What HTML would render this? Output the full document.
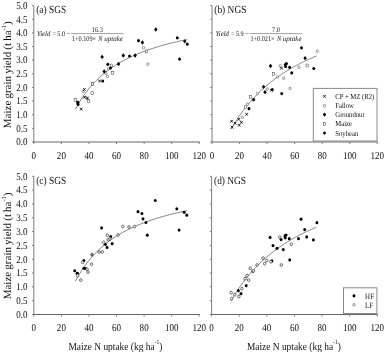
<!DOCTYPE html>
<html><head><meta charset="utf-8"><title>Maize grain yield vs N uptake</title>
<style>
html,body{margin:0;padding:0;background:#fff;}
body{width:385px;height:352px;overflow:hidden;}
svg{display:block;filter:grayscale(1);}
text{text-rendering:geometricPrecision;font-family:"Liberation Serif",serif;fill:#111;}
.t{font-size:10.4px;}
.ttl{font-size:10.8px;}
.eq{font-size:7.2px;fill:#151515;}
.i{font-style:italic;}
.lab{font-size:10.8px;}
.ylab{font-size:11px;word-spacing:-0.6px;}
.leg{font-size:7.7px;}
.leg2{font-size:8px;}
</style></head><body>
<svg width="385" height="352" viewBox="0 0 385 352">
<rect width="385" height="352" fill="#fff"/>
<path d="M33.3 142H199.78" stroke="#666" stroke-width="1" fill="none"/>
<path d="M33.8 5.6L33.8 142M32 142L33.8 142M32 128.36L33.8 128.36M32 114.72L33.8 114.72M32 101.08L33.8 101.08M32 87.44L33.8 87.44M32 73.8L33.8 73.8M32 60.16L33.8 60.16M32 46.52L33.8 46.52M32 32.88L33.8 32.88M32 19.24L33.8 19.24M32 5.6L33.8 5.6M33.8 142L33.8 144M61.38 142L61.38 144M88.96 142L88.96 144M116.54 142L116.54 144M144.12 142L144.12 144M171.7 142L171.7 144M199.28 142L199.28 144" stroke="#7c7c7c" stroke-width="1" fill="none"/>
<text transform="translate(27.5 145.3) scale(0.87 1)" class="t" text-anchor="end">0.0</text>
<text transform="translate(27.5 131.66) scale(0.87 1)" class="t" text-anchor="end">0.5</text>
<text transform="translate(27.5 118.02) scale(0.87 1)" class="t" text-anchor="end">1.0</text>
<text transform="translate(27.5 104.38) scale(0.87 1)" class="t" text-anchor="end">1.5</text>
<text transform="translate(27.5 90.74) scale(0.87 1)" class="t" text-anchor="end">2.0</text>
<text transform="translate(27.5 77.1) scale(0.87 1)" class="t" text-anchor="end">2.5</text>
<text transform="translate(27.5 63.46) scale(0.87 1)" class="t" text-anchor="end">3.0</text>
<text transform="translate(27.5 49.82) scale(0.87 1)" class="t" text-anchor="end">3.5</text>
<text transform="translate(27.5 36.18) scale(0.87 1)" class="t" text-anchor="end">4.0</text>
<text transform="translate(27.5 22.54) scale(0.87 1)" class="t" text-anchor="end">4.5</text>
<text transform="translate(27.5 8.9) scale(0.87 1)" class="t" text-anchor="end">5.0</text>
<text transform="translate(33.8 158.6) scale(0.87 1)" class="t" text-anchor="middle">0</text>
<text transform="translate(61.38 158.6) scale(0.87 1)" class="t" text-anchor="middle">20</text>
<text transform="translate(88.96 158.6) scale(0.87 1)" class="t" text-anchor="middle">40</text>
<text transform="translate(116.54 158.6) scale(0.87 1)" class="t" text-anchor="middle">60</text>
<text transform="translate(144.12 158.6) scale(0.87 1)" class="t" text-anchor="middle">80</text>
<text transform="translate(171.7 158.6) scale(0.87 1)" class="t" text-anchor="middle">100</text>
<text transform="translate(199.28 158.6) scale(0.87 1)" class="t" text-anchor="middle">120</text>
<path d="M211.55 142H377.75" stroke="#666" stroke-width="1" fill="none"/>
<path d="M212.05 5.6L212.05 142M210.25 142L212.05 142M210.25 128.36L212.05 128.36M210.25 114.72L212.05 114.72M210.25 101.08L212.05 101.08M210.25 87.44L212.05 87.44M210.25 73.8L212.05 73.8M210.25 60.16L212.05 60.16M210.25 46.52L212.05 46.52M210.25 32.88L212.05 32.88M210.25 19.24L212.05 19.24M210.25 5.6L212.05 5.6M212.05 142L212.05 144M239.58 142L239.58 144M267.12 142L267.12 144M294.65 142L294.65 144M322.19 142L322.19 144M349.72 142L349.72 144M377.25 142L377.25 144" stroke="#7c7c7c" stroke-width="1" fill="none"/>
<text transform="translate(212.05 158.6) scale(0.87 1)" class="t" text-anchor="middle">0</text>
<text transform="translate(239.58 158.6) scale(0.87 1)" class="t" text-anchor="middle">20</text>
<text transform="translate(267.12 158.6) scale(0.87 1)" class="t" text-anchor="middle">40</text>
<text transform="translate(294.65 158.6) scale(0.87 1)" class="t" text-anchor="middle">60</text>
<text transform="translate(322.19 158.6) scale(0.87 1)" class="t" text-anchor="middle">80</text>
<text transform="translate(349.72 158.6) scale(0.87 1)" class="t" text-anchor="middle">100</text>
<text transform="translate(377.25 158.6) scale(0.87 1)" class="t" text-anchor="middle">120</text>
<path d="M33.3 314.5H199.78" stroke="#666" stroke-width="1" fill="none"/>
<path d="M33.8 176.3L33.8 314.5M32 314.5L33.8 314.5M32 300.68L33.8 300.68M32 286.86L33.8 286.86M32 273.04L33.8 273.04M32 259.22L33.8 259.22M32 245.4L33.8 245.4M32 231.58L33.8 231.58M32 217.76L33.8 217.76M32 203.94L33.8 203.94M32 190.12L33.8 190.12M32 176.3L33.8 176.3M33.8 314.5L33.8 316.5M61.38 314.5L61.38 316.5M88.96 314.5L88.96 316.5M116.54 314.5L116.54 316.5M144.12 314.5L144.12 316.5M171.7 314.5L171.7 316.5M199.28 314.5L199.28 316.5" stroke="#7c7c7c" stroke-width="1" fill="none"/>
<text transform="translate(27.5 317.8) scale(0.87 1)" class="t" text-anchor="end">0.0</text>
<text transform="translate(27.5 303.98) scale(0.87 1)" class="t" text-anchor="end">0.5</text>
<text transform="translate(27.5 290.16) scale(0.87 1)" class="t" text-anchor="end">1.0</text>
<text transform="translate(27.5 276.34) scale(0.87 1)" class="t" text-anchor="end">1.5</text>
<text transform="translate(27.5 262.52) scale(0.87 1)" class="t" text-anchor="end">2.0</text>
<text transform="translate(27.5 248.7) scale(0.87 1)" class="t" text-anchor="end">2.5</text>
<text transform="translate(27.5 234.88) scale(0.87 1)" class="t" text-anchor="end">3.0</text>
<text transform="translate(27.5 221.06) scale(0.87 1)" class="t" text-anchor="end">3.5</text>
<text transform="translate(27.5 207.24) scale(0.87 1)" class="t" text-anchor="end">4.0</text>
<text transform="translate(27.5 193.42) scale(0.87 1)" class="t" text-anchor="end">4.5</text>
<text transform="translate(27.5 179.6) scale(0.87 1)" class="t" text-anchor="end">5.0</text>
<text transform="translate(33.8 331.1) scale(0.87 1)" class="t" text-anchor="middle">0</text>
<text transform="translate(61.38 331.1) scale(0.87 1)" class="t" text-anchor="middle">20</text>
<text transform="translate(88.96 331.1) scale(0.87 1)" class="t" text-anchor="middle">40</text>
<text transform="translate(116.54 331.1) scale(0.87 1)" class="t" text-anchor="middle">60</text>
<text transform="translate(144.12 331.1) scale(0.87 1)" class="t" text-anchor="middle">80</text>
<text transform="translate(171.7 331.1) scale(0.87 1)" class="t" text-anchor="middle">100</text>
<text transform="translate(199.28 331.1) scale(0.87 1)" class="t" text-anchor="middle">120</text>
<path d="M211.1 314.5H377.82" stroke="#666" stroke-width="1" fill="none"/>
<path d="M211.6 176.3L211.6 314.5M209.8 314.5L211.6 314.5M209.8 300.68L211.6 300.68M209.8 286.86L211.6 286.86M209.8 273.04L211.6 273.04M209.8 259.22L211.6 259.22M209.8 245.4L211.6 245.4M209.8 231.58L211.6 231.58M209.8 217.76L211.6 217.76M209.8 203.94L211.6 203.94M209.8 190.12L211.6 190.12M209.8 176.3L211.6 176.3M211.6 314.5L211.6 316.5M239.22 314.5L239.22 316.5M266.84 314.5L266.84 316.5M294.46 314.5L294.46 316.5M322.08 314.5L322.08 316.5M349.7 314.5L349.7 316.5M377.32 314.5L377.32 316.5" stroke="#7c7c7c" stroke-width="1" fill="none"/>
<text transform="translate(211.6 331.1) scale(0.87 1)" class="t" text-anchor="middle">0</text>
<text transform="translate(239.22 331.1) scale(0.87 1)" class="t" text-anchor="middle">20</text>
<text transform="translate(266.84 331.1) scale(0.87 1)" class="t" text-anchor="middle">40</text>
<text transform="translate(294.46 331.1) scale(0.87 1)" class="t" text-anchor="middle">60</text>
<text transform="translate(322.08 331.1) scale(0.87 1)" class="t" text-anchor="middle">80</text>
<text transform="translate(349.7 331.1) scale(0.87 1)" class="t" text-anchor="middle">100</text>
<text transform="translate(377.32 331.1) scale(0.87 1)" class="t" text-anchor="middle">120</text>
<path d="M75.45 109.21L76.82 106.64L78.2 104.2L79.58 101.87L80.96 99.65L82.34 97.53L83.72 95.51L85.1 93.57L86.48 91.71L87.86 89.93L89.24 88.22L90.61 86.58L91.99 85.01L93.37 83.49L94.75 82.03L96.13 80.63L97.51 79.27L98.89 77.96L100.27 76.7L101.65 75.48L103.03 74.31L104.4 73.17L105.78 72.07L107.16 71L108.54 69.97L109.92 68.97L111.3 68L112.68 67.06L114.06 66.15L115.44 65.26L116.82 64.4L118.19 63.57L119.57 62.76L120.95 61.97L122.33 61.2L123.71 60.45L125.09 59.72L126.47 59.01L127.85 58.32L129.23 57.65L130.61 57L131.98 56.36L133.36 55.73L134.74 55.12L136.12 54.53L137.5 53.95L138.88 53.38L140.26 52.83L141.64 52.29L143.02 51.76L144.4 51.24L145.77 50.74L147.15 50.25L148.53 49.76L149.91 49.29L151.29 48.83L152.67 48.37L154.05 47.93L155.43 47.49L156.81 47.07L158.19 46.65L159.56 46.24L160.94 45.84L162.32 45.45L163.7 45.06L165.08 44.69L166.46 44.31L167.84 43.95L169.22 43.59L170.6 43.24L171.98 42.9L173.35 42.56L174.73 42.23L176.11 41.9L177.49 41.58L178.87 41.27L180.25 40.96L181.63 40.65L183.01 40.36L184.39 40.06L185.77 39.77L187.14 39.49" stroke="#333" stroke-width="0.6" fill="none"/>
<path d="M75.45 281.28L76.82 278.68L78.2 276.2L79.58 273.84L80.96 271.59L82.34 269.45L83.72 267.39L85.1 265.43L86.48 263.55L87.86 261.74L89.24 260.01L90.61 258.35L91.99 256.76L93.37 255.22L94.75 253.74L96.13 252.32L97.51 250.94L98.89 249.62L100.27 248.34L101.65 247.11L103.03 245.91L104.4 244.76L105.78 243.65L107.16 242.57L108.54 241.52L109.92 240.51L111.3 239.53L112.68 238.57L114.06 237.65L115.44 236.75L116.82 235.88L118.19 235.03L119.57 234.21L120.95 233.41L122.33 232.63L123.71 231.87L125.09 231.14L126.47 230.42L127.85 229.72L129.23 229.04L130.61 228.37L131.98 227.73L133.36 227.09L134.74 226.48L136.12 225.88L137.5 225.29L138.88 224.71L140.26 224.15L141.64 223.61L143.02 223.07L144.4 222.55L145.77 222.04L147.15 221.54L148.53 221.05L149.91 220.57L151.29 220.1L152.67 219.64L154.05 219.19L155.43 218.75L156.81 218.32L158.19 217.89L159.56 217.48L160.94 217.07L162.32 216.67L163.7 216.28L165.08 215.9L166.46 215.53L167.84 215.16L169.22 214.79L170.6 214.44L171.98 214.09L173.35 213.75L174.73 213.41L176.11 213.08L177.49 212.76L178.87 212.44L180.25 212.13L181.63 211.82L183.01 211.51L184.39 211.22L185.77 210.92L187.14 210.64" stroke="#333" stroke-width="0.6" fill="none"/>
<path d="M231.31 128.74L232.69 126.38L234.06 124.09L235.44 121.88L236.81 119.74L238.19 117.66L239.56 115.64L240.94 113.69L242.31 111.79L243.69 109.95L245.06 108.16L246.44 106.43L247.81 104.74L249.19 103.09L250.56 101.5L251.94 99.94L253.31 98.43L254.69 96.95L256.06 95.51L257.44 94.11L258.81 92.75L260.19 91.42L261.56 90.12L262.94 88.86L264.31 87.62L265.69 86.42L267.06 85.24L268.44 84.09L269.81 82.97L271.19 81.87L272.56 80.8L273.94 79.75L275.31 78.72L276.69 77.72L278.06 76.74L279.44 75.78L280.81 74.84L282.19 73.92L283.56 73.02L284.94 72.14L286.31 71.28L287.69 70.43L289.06 69.6L290.44 68.79L291.81 67.99L293.19 67.21L294.56 66.45L295.94 65.7L297.31 64.96L298.69 64.24L300.06 63.53L301.44 62.84L302.81 62.15L304.19 61.48L305.56 60.83L306.94 60.18L308.31 59.55L309.69 58.93L311.06 58.31L312.44 57.71L313.81 57.12L315.19 56.54L316.56 55.97" stroke="#333" stroke-width="0.6" fill="none"/>
<path d="M230.91 301.06L232.29 298.67L233.66 296.35L235.04 294.11L236.41 291.94L237.79 289.84L239.16 287.8L240.54 285.82L241.91 283.9L243.29 282.03L244.66 280.22L246.04 278.46L247.41 276.74L248.79 275.08L250.16 273.46L251.54 271.88L252.91 270.35L254.29 268.86L255.66 267.4L257.04 265.98L258.41 264.6L259.79 263.25L261.16 261.94L262.54 260.66L263.91 259.4L265.29 258.18L266.66 256.99L268.04 255.83L269.41 254.69L270.79 253.58L272.16 252.49L273.54 251.43L274.91 250.39L276.29 249.37L277.66 248.38L279.04 247.41L280.41 246.45L281.79 245.52L283.16 244.61L284.54 243.72L285.91 242.84L287.29 241.99L288.66 241.15L290.04 240.32L291.41 239.52L292.79 238.73L294.16 237.95L295.54 237.19L296.91 236.44L298.29 235.71L299.66 235L301.04 234.29L302.41 233.6L303.79 232.92L305.16 232.26L306.54 231.6L307.91 230.96L309.29 230.33L310.66 229.71L312.04 229.1L313.41 228.5L314.79 227.92L316.16 227.34" stroke="#333" stroke-width="0.6" fill="none"/>
<rect x="110.15" y="64.05" width="2.3" height="2.9" fill="#fff" stroke="#222" stroke-width="0.45"/>
<rect x="111.55" y="71.25" width="2.3" height="2.9" fill="#fff" stroke="#222" stroke-width="0.45"/>
<rect x="91.35" y="82.25" width="2.3" height="2.9" fill="#fff" stroke="#222" stroke-width="0.45"/>
<rect x="90.95" y="91.8" width="2.3" height="2.9" fill="#fff" stroke="#222" stroke-width="0.45"/>
<rect x="74.1" y="98.3" width="2.3" height="2.9" fill="#fff" stroke="#222" stroke-width="0.45"/>
<rect x="87.35" y="99.55" width="2.3" height="2.9" fill="#fff" stroke="#222" stroke-width="0.45"/>
<rect x="145.25" y="50.05" width="2.3" height="2.9" fill="#fff" stroke="#222" stroke-width="0.45"/>
<ellipse cx="108.7" cy="68.7" rx="1.15" ry="1.3" fill="#fff" stroke="#222" stroke-width="0.45"/>
<ellipse cx="105.8" cy="73.3" rx="1.15" ry="1.3" fill="#fff" stroke="#222" stroke-width="0.45"/>
<ellipse cx="107.6" cy="76.4" rx="1.15" ry="1.3" fill="#fff" stroke="#222" stroke-width="0.45"/>
<ellipse cx="92.5" cy="83.7" rx="1.15" ry="1.3" fill="#fff" stroke="#222" stroke-width="0.45"/>
<ellipse cx="83.1" cy="91.4" rx="1.15" ry="1.3" fill="#fff" stroke="#222" stroke-width="0.45"/>
<ellipse cx="86" cy="97.5" rx="1.15" ry="1.3" fill="#fff" stroke="#222" stroke-width="0.45"/>
<ellipse cx="143.5" cy="47.8" rx="1.15" ry="1.3" fill="#fff" stroke="#222" stroke-width="0.45"/>
<ellipse cx="147.8" cy="64.2" rx="1.15" ry="1.3" fill="#fff" stroke="#222" stroke-width="0.45"/>
<path d="M98.35 79.6L100.85 82.4M98.35 82.4L100.85 79.6" stroke="#000" stroke-width="0.85" fill="none"/>
<path d="M83.15 88.1L85.65 90.9M83.15 90.9L85.65 88.1" stroke="#000" stroke-width="0.85" fill="none"/>
<path d="M83.15 95.85L85.65 98.65M83.15 98.65L85.65 95.85" stroke="#000" stroke-width="0.85" fill="none"/>
<path d="M86.25 96.7L88.75 99.5M86.25 99.5L88.75 96.7" stroke="#000" stroke-width="0.85" fill="none"/>
<path d="M76.5 100.85L79 103.65M76.5 103.65L79 100.85" stroke="#000" stroke-width="0.85" fill="none"/>
<path d="M80 107.7L82.5 110.5M80 110.5L82.5 107.7" stroke="#000" stroke-width="0.85" fill="none"/>
<ellipse cx="129.5" cy="56" rx="1.45" ry="1.6" fill="#000"/>
<ellipse cx="107.8" cy="64.3" rx="1.45" ry="1.6" fill="#000"/>
<ellipse cx="110.5" cy="68" rx="1.45" ry="1.6" fill="#000"/>
<ellipse cx="102.75" cy="81" rx="1.45" ry="1.6" fill="#000"/>
<ellipse cx="77.75" cy="102.25" rx="1.45" ry="1.6" fill="#000"/>
<ellipse cx="78.1" cy="104.5" rx="1.45" ry="1.6" fill="#000"/>
<ellipse cx="138.5" cy="40.7" rx="1.45" ry="1.6" fill="#000"/>
<ellipse cx="177.3" cy="37.8" rx="1.45" ry="1.6" fill="#000"/>
<ellipse cx="187.3" cy="44.2" rx="1.45" ry="1.6" fill="#000"/>
<ellipse cx="179.6" cy="59.1" rx="1.45" ry="1.6" fill="#000"/>
<path d="M102.1 54.75L103.85 56.9L102.1 59.05L100.35 56.9Z" fill="#000"/>
<path d="M123.3 53.35L125.05 55.5L123.3 57.65L121.55 55.5Z" fill="#000"/>
<path d="M135.1 53.35L136.85 55.5L135.1 57.65L133.35 55.5Z" fill="#000"/>
<path d="M118.5 61.85L120.25 64L118.5 66.15L116.75 64Z" fill="#000"/>
<path d="M104.2 69.35L105.95 71.5L104.2 73.65L102.45 71.5Z" fill="#000"/>
<path d="M155.8 27.35L157.55 29.5L155.8 31.65L154.05 29.5Z" fill="#000"/>
<path d="M142.4 40.35L144.15 42.5L142.4 44.65L140.65 42.5Z" fill="#000"/>
<path d="M184.7 39.15L186.45 41.3L184.7 43.45L182.95 41.3Z" fill="#000"/>
<rect x="272.25" y="72.75" width="2.3" height="2.9" fill="#fff" stroke="#222" stroke-width="0.45"/>
<rect x="249.45" y="95.45" width="2.3" height="2.9" fill="#fff" stroke="#222" stroke-width="0.45"/>
<rect x="244.35" y="105.85" width="2.3" height="2.9" fill="#fff" stroke="#222" stroke-width="0.45"/>
<rect x="305.95" y="64.05" width="2.3" height="2.9" fill="#fff" stroke="#222" stroke-width="0.45"/>
<ellipse cx="277.4" cy="76.9" rx="1.15" ry="1.3" fill="#fff" stroke="#222" stroke-width="0.45"/>
<ellipse cx="283.7" cy="78.2" rx="1.15" ry="1.3" fill="#fff" stroke="#222" stroke-width="0.45"/>
<ellipse cx="267.2" cy="89.1" rx="1.15" ry="1.3" fill="#fff" stroke="#222" stroke-width="0.45"/>
<ellipse cx="290.1" cy="88.5" rx="1.15" ry="1.3" fill="#fff" stroke="#222" stroke-width="0.45"/>
<ellipse cx="257.4" cy="93.6" rx="1.15" ry="1.3" fill="#fff" stroke="#222" stroke-width="0.45"/>
<ellipse cx="247.4" cy="104.2" rx="1.15" ry="1.3" fill="#fff" stroke="#222" stroke-width="0.45"/>
<ellipse cx="242.3" cy="117.3" rx="1.15" ry="1.3" fill="#fff" stroke="#222" stroke-width="0.45"/>
<ellipse cx="317.3" cy="51.3" rx="1.15" ry="1.3" fill="#fff" stroke="#222" stroke-width="0.45"/>
<ellipse cx="280.2" cy="65.8" rx="1.15" ry="1.3" fill="#fff" stroke="#222" stroke-width="0.45"/>
<ellipse cx="298.9" cy="67.3" rx="1.15" ry="1.3" fill="#fff" stroke="#222" stroke-width="0.45"/>
<ellipse cx="253.2" cy="100" rx="1.15" ry="1.3" fill="#fff" stroke="#222" stroke-width="0.45"/>
<path d="M270.05 88.9L272.55 91.7M270.05 91.7L272.55 88.9" stroke="#000" stroke-width="0.85" fill="none"/>
<path d="M245.35 112.85L247.85 115.65M245.35 115.65L247.85 112.85" stroke="#000" stroke-width="0.85" fill="none"/>
<path d="M237.5 117.85L240 120.65M237.5 120.65L240 117.85" stroke="#000" stroke-width="0.85" fill="none"/>
<path d="M230.35 119.85L232.85 122.65M230.35 122.65L232.85 119.85" stroke="#000" stroke-width="0.85" fill="none"/>
<path d="M240.15 120.9L242.65 123.7M240.15 123.7L242.65 120.9" stroke="#000" stroke-width="0.85" fill="none"/>
<path d="M233.95 121.9L236.45 124.7M233.95 124.7L236.45 121.9" stroke="#000" stroke-width="0.85" fill="none"/>
<path d="M238 123.8L240.5 126.6M238 126.6L240.5 123.8" stroke="#000" stroke-width="0.85" fill="none"/>
<path d="M230.85 125.8L233.35 128.6M230.85 128.6L233.35 125.8" stroke="#000" stroke-width="0.85" fill="none"/>
<path d="M280.25 66.8L282.75 69.6M280.25 69.6L282.75 66.8" stroke="#000" stroke-width="0.85" fill="none"/>
<ellipse cx="291.7" cy="72.9" rx="1.45" ry="1.6" fill="#000"/>
<ellipse cx="272.3" cy="89.5" rx="1.45" ry="1.6" fill="#000"/>
<ellipse cx="281.7" cy="93.6" rx="1.45" ry="1.6" fill="#000"/>
<ellipse cx="253.7" cy="99.5" rx="1.45" ry="1.6" fill="#000"/>
<ellipse cx="249" cy="108.7" rx="1.45" ry="1.6" fill="#000"/>
<ellipse cx="301.5" cy="47.8" rx="1.45" ry="1.6" fill="#000"/>
<ellipse cx="285.3" cy="64.5" rx="1.45" ry="1.6" fill="#000"/>
<ellipse cx="286.5" cy="63.6" rx="1.45" ry="1.6" fill="#000"/>
<ellipse cx="285.6" cy="66.4" rx="1.45" ry="1.6" fill="#000"/>
<ellipse cx="289.6" cy="67.3" rx="1.45" ry="1.6" fill="#000"/>
<ellipse cx="313.8" cy="68.5" rx="1.45" ry="1.6" fill="#000"/>
<path d="M263.5 84.65L265.25 86.8L263.5 88.95L261.75 86.8Z" fill="#000"/>
<path d="M265 90.05L266.75 92.2L265 94.35L263.25 92.2Z" fill="#000"/>
<path d="M305.1 56.05L306.85 58.2L305.1 60.35L303.35 58.2Z" fill="#000"/>
<path d="M270.5 63.85L272.25 66L270.5 68.15L268.75 66Z" fill="#000"/>
<ellipse cx="110.8" cy="236.5" rx="1.45" ry="1.6" fill="#000"/>
<ellipse cx="112.2" cy="243.7" rx="1.45" ry="1.6" fill="#000"/>
<ellipse cx="74.75" cy="270.75" rx="1.45" ry="1.6" fill="#000"/>
<ellipse cx="145.9" cy="222.5" rx="1.45" ry="1.6" fill="#000"/>
<ellipse cx="105.3" cy="244.3" rx="1.45" ry="1.6" fill="#000"/>
<ellipse cx="107.1" cy="247.4" rx="1.45" ry="1.6" fill="#000"/>
<ellipse cx="85.5" cy="268.5" rx="1.45" ry="1.6" fill="#000"/>
<ellipse cx="143" cy="218.8" rx="1.45" ry="1.6" fill="#000"/>
<ellipse cx="147.3" cy="235.2" rx="1.45" ry="1.6" fill="#000"/>
<ellipse cx="83.9" cy="260.5" rx="1.45" ry="1.6" fill="#000"/>
<ellipse cx="83.9" cy="268.25" rx="1.45" ry="1.6" fill="#000"/>
<ellipse cx="77.25" cy="273.25" rx="1.45" ry="1.6" fill="#000"/>
<ellipse cx="77.25" cy="273.25" rx="1.45" ry="1.6" fill="#000"/>
<ellipse cx="138" cy="211.7" rx="1.45" ry="1.6" fill="#000"/>
<ellipse cx="176.8" cy="208.8" rx="1.45" ry="1.6" fill="#000"/>
<ellipse cx="186.8" cy="215.2" rx="1.45" ry="1.6" fill="#000"/>
<ellipse cx="179.1" cy="230.1" rx="1.45" ry="1.6" fill="#000"/>
<ellipse cx="101.6" cy="227.9" rx="1.45" ry="1.6" fill="#000"/>
<ellipse cx="155.3" cy="200.5" rx="1.45" ry="1.6" fill="#000"/>
<ellipse cx="141.9" cy="213.5" rx="1.45" ry="1.6" fill="#000"/>
<ellipse cx="184.2" cy="212.3" rx="1.45" ry="1.6" fill="#000"/>
<ellipse cx="92" cy="254.7" rx="1.3" ry="1.45" fill="#999" stroke="#111" stroke-width="0.6"/>
<ellipse cx="91.6" cy="264.25" rx="1.25" ry="1.4" fill="#fff" stroke="#111" stroke-width="0.6"/>
<ellipse cx="88" cy="272" rx="1.25" ry="1.4" fill="#fff" stroke="#111" stroke-width="0.6"/>
<ellipse cx="108.2" cy="239.7" rx="1.25" ry="1.4" fill="#fff" stroke="#111" stroke-width="0.6"/>
<ellipse cx="82.6" cy="262.4" rx="1.25" ry="1.4" fill="#fff" stroke="#111" stroke-width="0.6"/>
<ellipse cx="99.1" cy="252" rx="1.25" ry="1.4" fill="#fff" stroke="#111" stroke-width="0.6"/>
<ellipse cx="87" cy="269.1" rx="1.25" ry="1.4" fill="#fff" stroke="#111" stroke-width="0.6"/>
<ellipse cx="80.75" cy="280.1" rx="1.25" ry="1.4" fill="#fff" stroke="#111" stroke-width="0.6"/>
<ellipse cx="129" cy="227" rx="1.25" ry="1.4" fill="#fff" stroke="#111" stroke-width="0.6"/>
<ellipse cx="107.3" cy="235.3" rx="1.25" ry="1.4" fill="#fff" stroke="#111" stroke-width="0.6"/>
<ellipse cx="110" cy="239" rx="1.25" ry="1.4" fill="#fff" stroke="#111" stroke-width="0.6"/>
<ellipse cx="102.25" cy="252" rx="1.25" ry="1.4" fill="#fff" stroke="#111" stroke-width="0.6"/>
<ellipse cx="77.6" cy="275.5" rx="1.25" ry="1.4" fill="#fff" stroke="#111" stroke-width="0.6"/>
<ellipse cx="122.8" cy="226.5" rx="1.25" ry="1.4" fill="#fff" stroke="#111" stroke-width="0.6"/>
<ellipse cx="134.6" cy="226.5" rx="1.25" ry="1.4" fill="#fff" stroke="#111" stroke-width="0.6"/>
<ellipse cx="118" cy="235" rx="1.25" ry="1.4" fill="#fff" stroke="#111" stroke-width="0.6"/>
<ellipse cx="103.7" cy="242.5" rx="1.25" ry="1.4" fill="#fff" stroke="#111" stroke-width="0.6"/>
<ellipse cx="273" cy="245.6" rx="1.45" ry="1.6" fill="#000"/>
<ellipse cx="306.7" cy="236.9" rx="1.45" ry="1.6" fill="#000"/>
<ellipse cx="277" cy="248.3" rx="1.45" ry="1.6" fill="#000"/>
<ellipse cx="283.3" cy="249.6" rx="1.45" ry="1.6" fill="#000"/>
<ellipse cx="289.7" cy="259.9" rx="1.45" ry="1.6" fill="#000"/>
<ellipse cx="316.9" cy="222.7" rx="1.45" ry="1.6" fill="#000"/>
<ellipse cx="298.5" cy="238.7" rx="1.45" ry="1.6" fill="#000"/>
<ellipse cx="246.2" cy="285.65" rx="1.45" ry="1.6" fill="#000"/>
<ellipse cx="238.35" cy="290.65" rx="1.45" ry="1.6" fill="#000"/>
<ellipse cx="241" cy="293.7" rx="1.45" ry="1.6" fill="#000"/>
<ellipse cx="281.1" cy="239.6" rx="1.45" ry="1.6" fill="#000"/>
<ellipse cx="271.9" cy="260.9" rx="1.45" ry="1.6" fill="#000"/>
<ellipse cx="301.1" cy="219.2" rx="1.45" ry="1.6" fill="#000"/>
<ellipse cx="284.9" cy="235.9" rx="1.45" ry="1.6" fill="#000"/>
<ellipse cx="286.1" cy="235" rx="1.45" ry="1.6" fill="#000"/>
<ellipse cx="285.2" cy="237.8" rx="1.45" ry="1.6" fill="#000"/>
<ellipse cx="289.2" cy="238.7" rx="1.45" ry="1.6" fill="#000"/>
<ellipse cx="313.4" cy="239.9" rx="1.45" ry="1.6" fill="#000"/>
<ellipse cx="304.7" cy="229.6" rx="1.45" ry="1.6" fill="#000"/>
<ellipse cx="270.1" cy="237.4" rx="1.45" ry="1.6" fill="#000"/>
<ellipse cx="250.2" cy="268.3" rx="1.25" ry="1.4" fill="#fff" stroke="#111" stroke-width="0.6"/>
<ellipse cx="245.1" cy="278.7" rx="1.25" ry="1.4" fill="#fff" stroke="#111" stroke-width="0.6"/>
<ellipse cx="266.8" cy="260.5" rx="1.25" ry="1.4" fill="#fff" stroke="#111" stroke-width="0.6"/>
<ellipse cx="257" cy="265" rx="1.25" ry="1.4" fill="#fff" stroke="#111" stroke-width="0.6"/>
<ellipse cx="247" cy="275.6" rx="1.25" ry="1.4" fill="#fff" stroke="#111" stroke-width="0.6"/>
<ellipse cx="241.9" cy="288.7" rx="1.25" ry="1.4" fill="#fff" stroke="#111" stroke-width="0.6"/>
<ellipse cx="279.8" cy="237.2" rx="1.25" ry="1.4" fill="#fff" stroke="#111" stroke-width="0.6"/>
<ellipse cx="252.8" cy="271.4" rx="1.25" ry="1.4" fill="#fff" stroke="#111" stroke-width="0.6"/>
<ellipse cx="270.9" cy="261.7" rx="1.25" ry="1.4" fill="#fff" stroke="#111" stroke-width="0.6"/>
<ellipse cx="231.2" cy="292.65" rx="1.25" ry="1.4" fill="#fff" stroke="#111" stroke-width="0.6"/>
<ellipse cx="234.8" cy="294.7" rx="1.25" ry="1.4" fill="#fff" stroke="#111" stroke-width="0.6"/>
<ellipse cx="238.85" cy="296.6" rx="1.25" ry="1.4" fill="#fff" stroke="#111" stroke-width="0.6"/>
<ellipse cx="231.7" cy="298.6" rx="1.25" ry="1.4" fill="#fff" stroke="#111" stroke-width="0.6"/>
<ellipse cx="291.3" cy="244.3" rx="1.25" ry="1.4" fill="#fff" stroke="#111" stroke-width="0.6"/>
<ellipse cx="281.3" cy="265" rx="1.25" ry="1.4" fill="#fff" stroke="#111" stroke-width="0.6"/>
<ellipse cx="253.3" cy="270.9" rx="1.25" ry="1.4" fill="#fff" stroke="#111" stroke-width="0.6"/>
<ellipse cx="248.6" cy="280.1" rx="1.25" ry="1.4" fill="#fff" stroke="#111" stroke-width="0.6"/>
<ellipse cx="263.1" cy="258.2" rx="1.25" ry="1.4" fill="#fff" stroke="#111" stroke-width="0.6"/>
<ellipse cx="264.6" cy="263.6" rx="1.25" ry="1.4" fill="#fff" stroke="#111" stroke-width="0.6"/>
<text transform="translate(36.2 13.3) scale(0.87 1)" class="ttl">(a) SGS</text>
<text transform="translate(214.3 13.3) scale(0.87 1)" class="ttl">(b) NGS</text>
<text transform="translate(36.2 184.3) scale(0.87 1)" class="ttl">(c) SGS</text>
<text transform="translate(214 184.3) scale(0.87 1)" class="ttl">(d) NGS</text>
<text transform="translate(36.9 35.5) scale(0.95 1)" class="eq i">Yield</text>
<text transform="translate(52.4 35.5) scale(0.87 1)" class="eq">=</text>
<text transform="translate(57.3 35.5) scale(0.87 1)" class="eq">5.0</text>
<text transform="translate(66.6 35.5) scale(0.87 1)" class="eq">−</text>
<path d="M71 33.6H123.6" stroke="#444" stroke-width="0.5"/>
<text transform="translate(97.3 31.5) scale(0.87 1)" class="eq" text-anchor="middle">16.3</text>
<text transform="translate(71.8 41.1) scale(0.87 1)" class="eq">1+0.109×</text>
<text transform="translate(98.3 41.1) scale(0.87 1)" class="eq i">N</text>
<text transform="translate(104.2 41.1) scale(0.98 1)" class="eq i">uptake</text>
<text transform="translate(215.5 35.5) scale(0.95 1)" class="eq i">Yield</text>
<text transform="translate(231 35.5) scale(0.87 1)" class="eq">=</text>
<text transform="translate(235.9 35.5) scale(0.87 1)" class="eq">5.9</text>
<text transform="translate(245.2 35.5) scale(0.87 1)" class="eq">−</text>
<path d="M249.6 33.6H302.2" stroke="#444" stroke-width="0.5"/>
<text transform="translate(275.9 31.5) scale(0.87 1)" class="eq" text-anchor="middle">7.0</text>
<text transform="translate(250.4 41.1) scale(0.87 1)" class="eq">1+0.021×</text>
<text transform="translate(276.9 41.1) scale(0.87 1)" class="eq i">N</text>
<text transform="translate(282.8 41.1) scale(0.98 1)" class="eq i">uptake</text>
<text transform="translate(11.4 74.8) rotate(-90)" text-anchor="middle" class="ylab">Maize grain yield (t ha<tspan dy="-5.8" font-size="6.4">-1</tspan><tspan dy="5.8">)</tspan></text>
<text transform="translate(11.4 245.9) rotate(-90)" text-anchor="middle" class="ylab">Maize grain yield (t ha<tspan dy="-5.8" font-size="6.4">-1</tspan><tspan dy="5.8">)</tspan></text>
<text transform="translate(115.4 349.8) scale(0.87 1)" class="lab" text-anchor="middle">Maize N uptake (kg ha<tspan dy="-5.6" font-size="6.4">-1</tspan><tspan dy="5.6">)</tspan></text>
<text transform="translate(293.9 349.8) scale(0.87 1)" class="lab" text-anchor="middle">Maize N uptake (kg ha<tspan dy="-5.6" font-size="6.4">-1</tspan><tspan dy="5.6">)</tspan></text>
<rect x="313.3" y="88.4" width="63.7" height="52.6" fill="#fff" stroke="#8a8a8a" stroke-width="1"/>
<path d="M323.25 94.9L325.75 97.7M323.25 97.7L325.75 94.9" stroke="#000" stroke-width="0.85" fill="none"/>
<text transform="translate(335.3 98.8) scale(0.87 1)" class="leg">CP + MZ (R2)</text>
<ellipse cx="324.5" cy="105.7" rx="1.15" ry="1.3" fill="#fff" stroke="#222" stroke-width="0.45"/>
<text transform="translate(335.3 108.2) scale(0.87 1)" class="leg">Fallow</text>
<path d="M324.5 112.45L326.25 114.6L324.5 116.75L322.75 114.6Z" fill="#000"/>
<text transform="translate(335.3 117.1) scale(0.87 1)" class="leg">Groundnut</text>
<rect x="323.35" y="122.35" width="2.3" height="2.9" fill="#fff" stroke="#222" stroke-width="0.45"/>
<text transform="translate(335.3 126.3) scale(0.87 1)" class="leg">Maize</text>
<ellipse cx="324.5" cy="133" rx="1.45" ry="1.6" fill="#000"/>
<text transform="translate(335.3 135.5) scale(0.87 1)" class="leg">Soybean</text>
<rect x="343.5" y="287.8" width="33.4" height="25.7" fill="#fff" stroke="#8a8a8a" stroke-width="1"/>
<ellipse cx="354" cy="295.8" rx="1.45" ry="1.6" fill="#000"/>
<text transform="translate(365.1 298.7) scale(0.87 1)" class="leg2">HF</text>
<ellipse cx="354" cy="304.8" rx="1.15" ry="1.3" fill="#fff" stroke="#222" stroke-width="0.45"/>
<text transform="translate(365.1 307.7) scale(0.87 1)" class="leg2">LF</text>
</svg>
</body></html>
